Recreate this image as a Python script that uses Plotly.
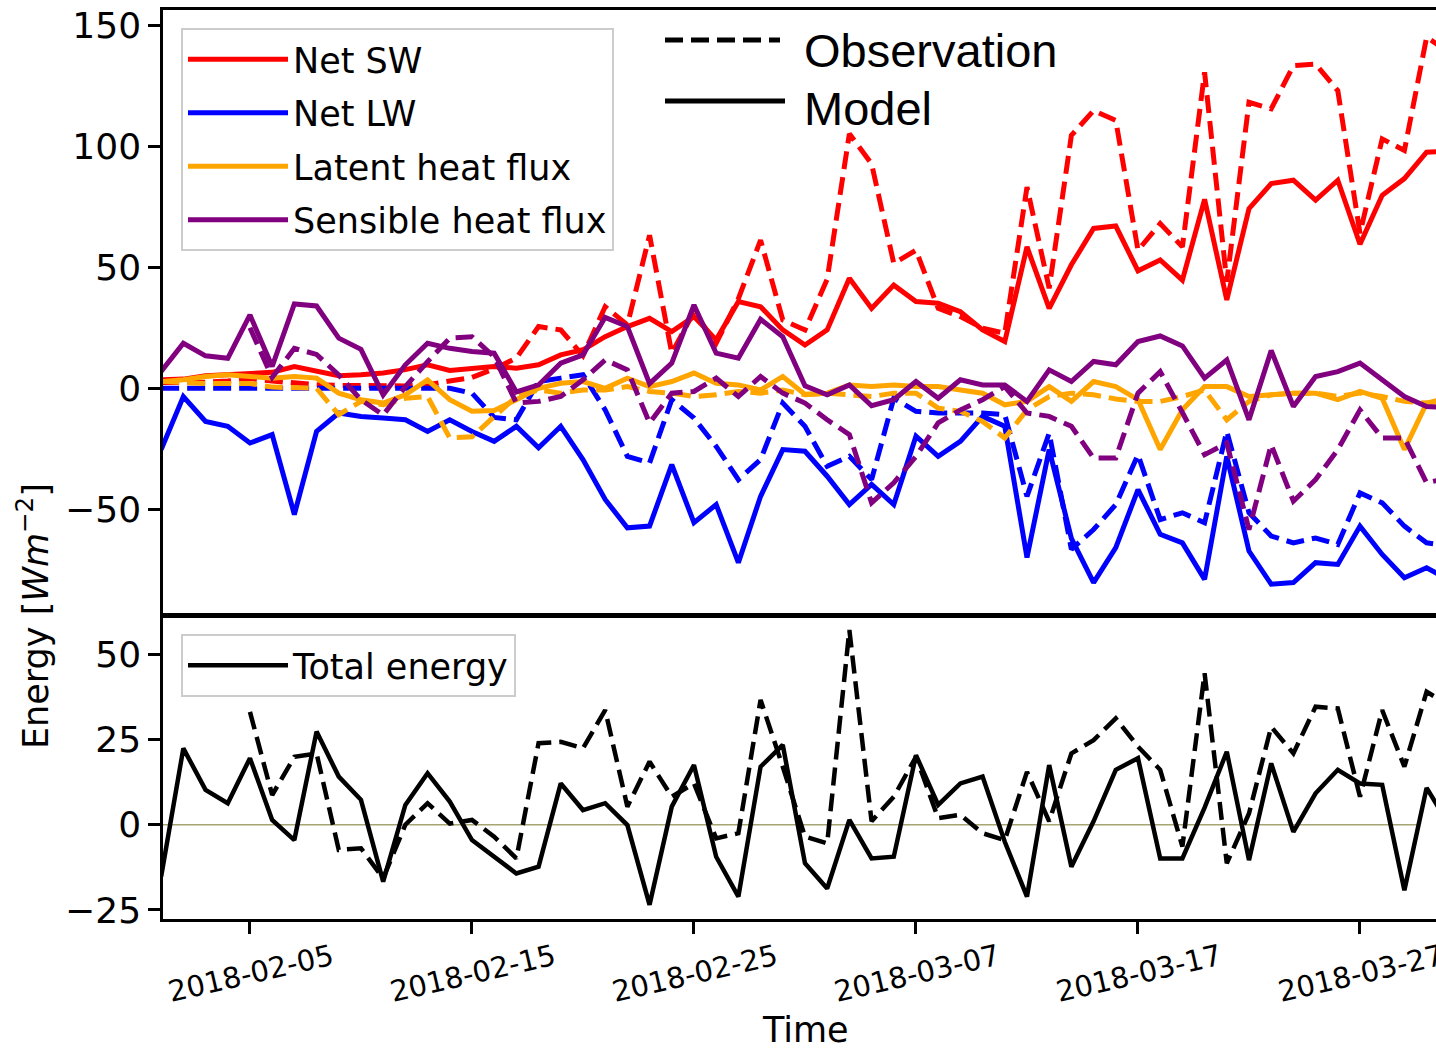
import pandas as pd
import plotly.graph_objects as go

# ---------------- data (daily values) ----------------
dates = pd.date_range("2018-02-01", periods=59, freq="D")

sw_model = [3.5, 3.8, 5.2, 5.6, 6.3, 6.6, 9.0, 6.9, 5.2, 5.6, 6.3, 7.7, 9.7, 7.4, 8.3, 9.0, 8.3, 9.7, 13.8, 15.9,
            21.3, 25.5, 28.9, 23.4, 29.6, 20.0, 35.8, 33.7, 24.1, 17.9, 24.1, 45.4, 33.0, 42.6, 35.8, 35.1, 31.6, 24.1, 19.3, 58.4,
            33.0, 51.0, 66.0, 67.0, 48.5, 53.0, 44.7, 78.0, 36.5, 74.2, 84.5, 85.9, 77.7, 85.9, 59.5, 79.7, 86.6, 97.5, 98.0]
sw_obs = [2.4, 2.2, 2.5, 3.0, 4.0, 3.0, 2.0, 1.5, 1.2, 1.0, 0.8, 1.0, 1.5, 3.0, 4.5, 8.0, 12.5, 25.5, 24.1, 13.5,
          33.7, 26.2, 63.2, 14.5, 31.6, 18.6, 37.0, 61.2, 28.2, 24.1, 45.0, 105.1, 92.7, 51.6, 57.0, 33.0, 29.6, 24.8, 22.7, 83.1,
          41.3, 104.4, 114.7, 110.6, 57.0, 68.0, 58.4, 130.5, 44.0, 118.1, 115.4, 133.2, 133.9, 122.9, 64.0, 103.0, 98.2, 144.9, 139.0]

lw_model = [-25.3, -3.4, -13.7, -15.7, -22.6, -19.1, -52.1, -17.8, -10.2, -11.6, -12.3, -13.0, -17.8, -13.0, -17.8, -21.9, -15.7, -24.6, -15.7, -29.4,
            -45.9, -57.6, -56.9, -31.5, -55.5, -48.0, -72.0, -44.6, -25.3, -26.0, -36.3, -48.0, -39.7, -48.0, -19.8, -28.1, -21.9, -11.6, -15.7, -69.9,
            -25.3, -62.0, -80.2, -65.8, -41.8, -60.3, -63.8, -78.9, -28.1, -67.2, -80.9, -80.2, -72.0, -72.7, -56.9, -68.6, -78.2, -74.1, -79.0]
lw_obs = [0.0, 0.0, 0.0, 0.0, 0.0, 0.0, 0.0, 0.0, 0.0, 0.0, 0.0, 0.0, 0.0, 0.0, -2.0, -12.0, -13.0, 2.8, 4.2, 5.6,
          -8.9, -28.1, -30.8, -4.7, -12.3, -24.0, -37.7, -29.4, -6.1, -15.7, -32.2, -28.1, -37.7, -4.1, -9.5, -10.2, -10.2, -10.2, -10.9, -44.6,
          -18.5, -66.5, -58.3, -48.0, -27.4, -54.2, -51.4, -55.5, -17.8, -51.4, -61.0, -63.8, -61.8, -64.5, -43.2, -47.3, -56.9, -63.8, -65.0]

lh_model = [2.8, 3.5, 4.9, 5.6, 4.9, 4.2, 4.9, 4.2, -2.0, -4.7, -6.1, -2.7, 3.5, -4.7, -9.5, -9.2, -4.7, 0.0, 2.1, 2.8,
            0.0, 4.2, 0.7, 2.8, 6.3, 2.1, 1.4, -0.7, 4.9, -2.5, -2.0, 1.4, 0.7, 1.4, 0.7, 0.7, -0.7, -2.0, -6.8, -5.4,
            0.7, -5.4, 2.8, 0.7, -4.7, -25.3, -8.9, 0.7, 0.7, -3.4, -2.7, -2.0, -2.0, -4.7, -1.3, -4.1, -25.3, -6.1, -4.0]
lh_obs = [2.8, 2.2, 2.0, 2.0, 2.0, 0.5, 0.0, 0.0, -10.9, -5.4, -6.8, -4.1, -3.4, -20.5, -20.0, -12.0, -3.4, -0.7, -2.0, -0.7,
          -0.7, 0.7, -1.3, -2.0, -3.4, -2.7, -1.3, -2.0, -0.7, -2.7, -2.0, -2.7, -3.4, -2.0, -2.0, -8.2, -9.5, -13.7, -20.5, -8.9,
          -3.4, -2.0, -2.7, -4.4, -5.4, -5.4, -3.4, -0.7, -13.0, -5.4, -2.7, -2.0, -2.0, -3.4, -2.0, -3.4, -5.4, -6.1, -5.0]

sh_model = [7.0, 18.6, 13.4, 12.4, 30.3, 9.0, 34.8, 34.0, 20.7, 16.1, -2.7, 9.7, 18.6, 16.5, 15.2, 14.5, -1.5, 1.4, 10.4, 13.8,
            29.3, 25.5, 1.9, 10.4, 34.4, 14.5, 12.4, 28.5, 21.3, 1.0, -2.7, 1.4, -7.2, -4.7, 2.8, -4.1, 3.5, 1.4, 1.4, -5.4,
            7.6, 2.8, 11.1, 9.7, 19.3, 21.6, 17.5, 4.2, 11.7, -13.0, 15.6, -7.5, 4.9, 6.9, 10.4, 3.5, -3.4, -7.5, -8.0]
sh_obs = [None, None, None, None, 25.0, 4.5, 16.5, 14.0, 5.5, -4.7, -11.0, 0.7, 11.0, 20.7, 21.3, 13.0, -6.1, -5.4, -3.4, 3.5,
          11.7, 7.6, -14.3, -2.0, -1.3, 4.2, -3.4, 4.9, -2.0, -6.1, -13.0, -19.1, -47.3, -39.0, -28.1, -14.3, -8.9, -4.7, 0.7, -10.2,
          -11.6, -15.7, -28.8, -28.8, -2.0, 6.9, -10.0, -27.4, -22.6, -58.3, -23.3, -46.6, -37.7, -25.3, -8.9, -20.5, -20.5, -39.0, -37.0]

total_model = [-15.2, 22.4, 10.2, 6.3, 19.5, 1.4, -4.5, 27.3, 14.1, 7.3, -16.7, 5.8, 15.1, 6.8, -4.5, -9.4, -14.3, -12.3, 12.1, 4.3,
               6.3, -0.1, -23.5, 5.3, 17.5, -9.4, -21.1, 17.0, 23.4, -11.3, -18.7, 1.4, -9.9, -9.4, 20.4, 5.8, 12.1, 14.1, -5.0, -21.1,
               17.5, -12.3, 1.0, 16.1, 19.5, -9.9, -9.9, 5.0, 21.4, -10.4, 18.0, -2.1, 9.2, 16.1, 12.1, 11.7, -19.2, 10.8, 0.0]
total_obs = [None, None, None, None, 33.1, 8.7, 19.9, 20.9, -7.4, -6.9, -15.7, 0.0, 6.3, 0.3, 1.4, -3.5, -9.9, 23.9, 24.3, 22.4,
             33.6, 5.3, 18.5, 8.2, 12.1, -4.0, -2.5, 36.6, 17.0, -3.5, -5.5, 57.1, 1.0, 8.2, 19.9, 1.9, 2.9, -2.5, -4.5, 15.5,
             1.0, 20.9, 24.8, 31.2, 22.9, 16.1, -6.4, 44.4, -11.3, 3.3, 28.7, 20.9, 34.6, 34.1, 8.2, 33.6, 17.0, 39.0, 35.0]

zero_line_x = ["2018-02-01", "2018-03-29 14:00"]
zero_line_y = [0, 0]

series = [
    ("Net SW", "sw", "#ff0000", sw_model, sw_obs),
    ("Net LW", "lw", "#0000ff", lw_model, lw_obs),
    ("Latent heat flux", "lh", "#ffa500", lh_model, lh_obs),
    ("Sensible heat flux", "sh", "#800080", sh_model, sh_obs),
]

top_ticks = [-50, 0, 50, 100, 150]
bottom_ticks = [-25, 0, 25, 50]

# ---------------- figure ----------------
FONT = "DejaVu Sans"
LW = 5
DASH = "18px,8px"

fig = go.Figure()

for name, grp, color, model, obs in series:
    fig.add_trace(go.Scatter(x=dates, y=obs, mode="lines", xaxis="x", yaxis="y",
                             line=dict(color=color, width=LW, dash=DASH),
                             legendgroup=grp, showlegend=False, name=name + " (obs)"))
    fig.add_trace(go.Scatter(x=dates, y=model, mode="lines", xaxis="x", yaxis="y",
                             line=dict(color=color, width=LW),
                             legendgroup=grp, showlegend=True, name=name, legend="legend"))

fig.add_trace(go.Scatter(x=zero_line_x, y=zero_line_y, mode="lines", xaxis="x2", yaxis="y2",
                         line=dict(color="rgb(165,165,115)", width=1.5), showlegend=False, hoverinfo="skip"))
fig.add_trace(go.Scatter(x=dates, y=total_obs, mode="lines", xaxis="x2", yaxis="y2",
                         line=dict(color="black", width=4.5, dash=DASH), showlegend=False,
                         name="Total energy (obs)"))
fig.add_trace(go.Scatter(x=dates, y=total_model, mode="lines", xaxis="x2", yaxis="y2",
                         line=dict(color="black", width=4.5), showlegend=True,
                         name="Total energy", legend="legend3"))

H = 1051
PT, PB = 10, 919          # plot area pixel top / bottom
PL, PR = 163, 1436
def py(p):                 # pixel y -> paper y
    return (PB - p) / (PB - PT)
def px(p):                 # pixel x -> paper x
    return (p - PL) / (PR - PL)

axis_common = dict(showline=True, linecolor="black", linewidth=2.5, showgrid=False, zeroline=False,
                   ticks="outside", ticklen=12, tickwidth=2.5, tickcolor="black", automargin=False,
                   tickfont=dict(family=FONT, size=36, color="black"))

x_range = ["2018-02-01 02:00", "2018-03-30 10:10"]

fig.update_layout(
    width=1436, height=H,
    margin=dict(l=PL, r=0, t=PT, b=H - PB, autoexpand=False),
    paper_bgcolor="white", plot_bgcolor="white",
    font=dict(family=FONT, color="black"),
    xaxis=dict(domain=[0, 1], anchor="y", type="date", range=x_range, matches="x2",
               showticklabels=False, ticks="", showline=True, linecolor="black", linewidth=2.5,
               mirror=True, showgrid=False, zeroline=False, automargin=False),
    yaxis=dict(domain=[py(615), 1], anchor="x", range=[-93.6, 156.2],
               tickvals=top_ticks, ticktext=[str(v).replace("-", "\u2212") for v in top_ticks],
               **axis_common),
    xaxis2=dict(domain=[0, 1], anchor="y2", type="date", range=x_range,
                tick0="2018-02-05", dtick=864000000, tickformat="%Y-%m-%d", tickangle=-13,
                ticklabelshift=82, ticklabelstandoff=-4, ticklabeloverflow="allow",
                mirror=True, **{k: v for k, v in axis_common.items() if k != "tickfont"},
                tickfont=dict(family=FONT, size=29, color="black")),
    yaxis2=dict(domain=[0, py(616)], anchor="x2", range=[-27.65, 61.2],
                tickvals=bottom_ticks, ticktext=[str(v).replace("-", "\u2212") for v in bottom_ticks],
                **axis_common),
    legend=dict(x=px(181), y=py(28), xanchor="left", yanchor="top",
                bgcolor="rgba(255,255,255,0.8)", bordercolor="#cccccc", borderwidth=2,
                font=dict(family=FONT, size=35, color="black"), tracegroupgap=5,
                traceorder="grouped", itemwidth=100),
    legend3=dict(x=px(181), y=py(634), xanchor="left", yanchor="top",
                 bgcolor="rgba(255,255,255,0.8)", bordercolor="#cccccc", borderwidth=2,
                 font=dict(family=FONT, size=35, color="black"), itemwidth=100),
    showlegend=True,
)

# Observation / Model style key
fig.add_shape(type="line", xref="paper", yref="paper", x0=px(665), x1=px(780), y0=py(40), y1=py(40),
              line=dict(color="black", width=5, dash=DASH))
fig.add_shape(type="line", xref="paper", yref="paper", x0=px(665), x1=px(785), y0=py(101), y1=py(101),
              line=dict(color="black", width=5))
fig.add_annotation(xref="paper", yref="paper", x=px(802), y=py(50), text="Observation", showarrow=False,
                   xanchor="left", yanchor="middle", font=dict(family="Liberation Sans", size=47, color="black"))
fig.add_annotation(xref="paper", yref="paper", x=px(802), y=py(108), text="Model", showarrow=False,
                   xanchor="left", yanchor="middle", font=dict(family="Liberation Sans", size=47, color="black"))

# axis titles
fig.add_annotation(xref="paper", yref="paper", x=px(33), y=py(616), text="Energy [<i>Wm</i><sup>\u22122</sup>]",
                   showarrow=False, textangle=-90, xanchor="center", yanchor="middle",
                   font=dict(family=FONT, size=35, color="black"))
fig.add_annotation(xref="paper", yref="paper", x=px(805), y=py(1051), text="Time",
                   showarrow=False, xanchor="center", yanchor="bottom", borderpad=0,
                   font=dict(family=FONT, size=35, color="black"))

fig.write_html("out.html")
